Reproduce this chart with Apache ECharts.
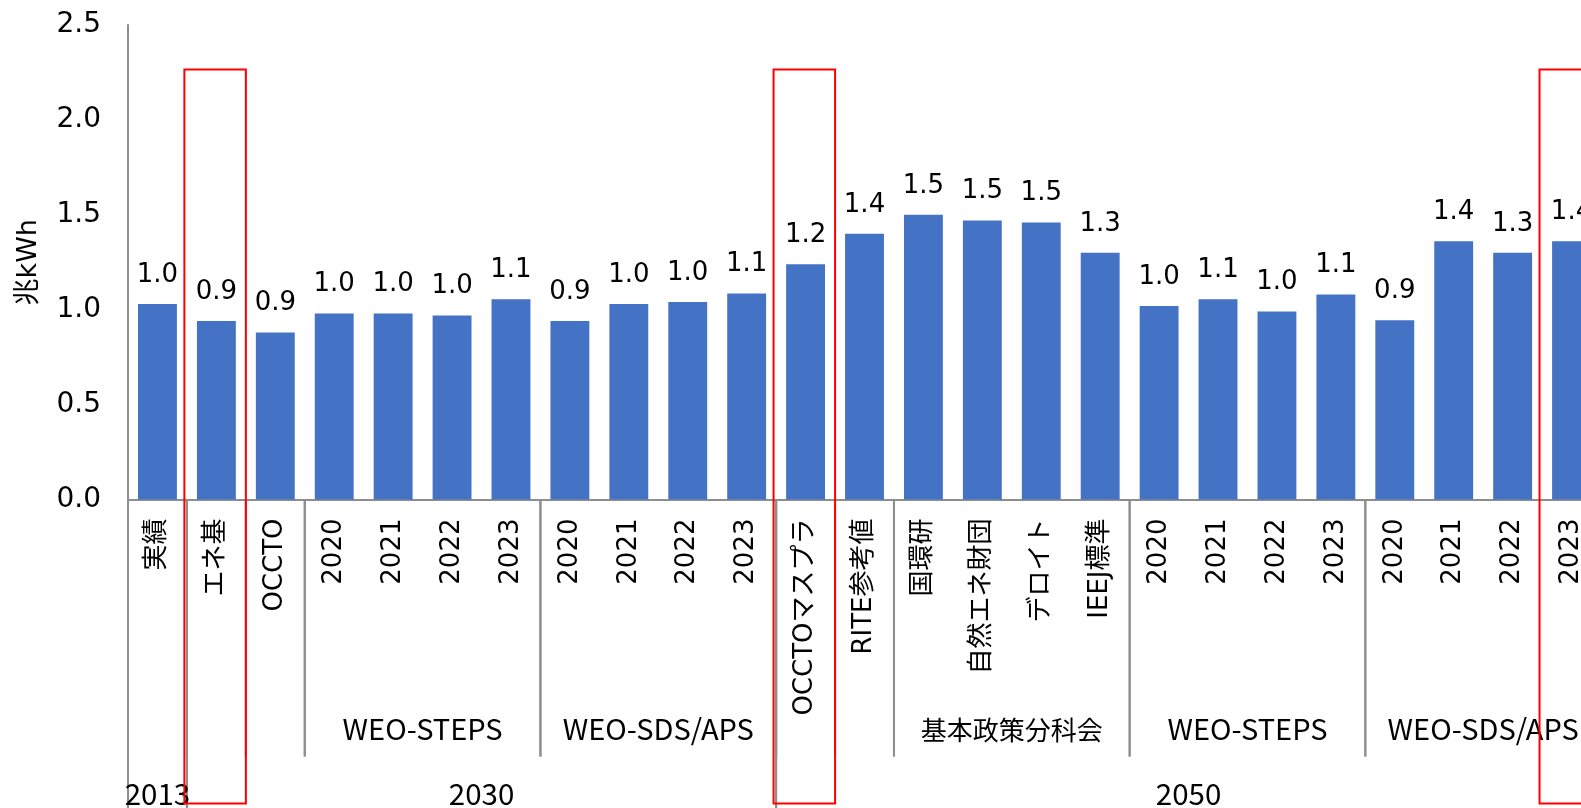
<!DOCTYPE html>
<html>
<head>
<meta charset="utf-8">
<script src="https://cdn.jsdelivr.net/npm/echarts@6/dist/echarts.min.js"></script>
<style>
html,body{margin:0;padding:0;background:#fff;overflow:hidden;}
#chart{width:1581px;height:808px;}
</style>
</head>
<body>
<div id="chart"></div>
<script>
// ---- data ----
const categories = ['実績','エネ基','OCCTO','2020','2021','2022','2023','2020','2021','2022','2023',
  'OCCTOマスプラ','RITE参考値','国環研','自然エネ財団','デロイト','IEEJ標準',
  '2020','2021','2022','2023','2020','2021','2022','2023'];
const values = [1.03,0.94,0.88,0.98,0.98,0.97,1.055,0.94,1.03,1.04,1.085,
  1.24,1.40,1.50,1.47,1.46,1.30,
  1.02,1.055,0.99,1.08,0.945,1.36,1.30,1.36];
const level2Groups = [['',1],['',1],['',1],['WEO-STEPS',4],['WEO-SDS/APS',4],['',1],['',1],['基本政策分科会',4],['WEO-STEPS',4],['WEO-SDS/APS',4]];
const level3Groups = [['2013',1],['2030',10],['2050',14]];
const highlighted = [1, 11, 24];
const yTicks = [0, 0.5, 1.0, 1.5, 2.0, 2.5];
const yName = '兆kWh';

const LATIN = "'DejaVu Sans','Noto Sans CJK JP',sans-serif";
const CJK = "'Noto Sans CJK JP','DejaVu Sans',sans-serif";
const axisColor = '#8e8e8e';

const chart = echarts.init(document.getElementById('chart'));
const keys = categories.map((c, i) => String(i));
chart.setOption({
  animation: false,
  grid: {left: 128, width: 1473, top: 25, height: 474.5, containLabel: false, outerBoundsMode: 'none'},
  xAxis: {
    type: 'category', data: keys,
    axisLine: {lineStyle: {color: axisColor, width: 2}},
    axisTick: {show: false},
    axisLabel: {
      interval: 0, rotate: 90, margin: 19, fontSize: 26, fontFamily: LATIN, color: '#000',
      formatter: (v) => categories[+v]
    }
  },
  yAxis: {
    type: 'value', min: yTicks[0], max: yTicks[yTicks.length - 1], interval: 0.5,
    name: yName, nameLocation: 'middle', nameGap: 86, nameRotate: 90,
    nameTextStyle: {fontSize: 27, fontFamily: LATIN, color: '#000'},
    axisLine: {show: true, lineStyle: {color: axisColor, width: 2}},
    axisTick: {show: false},
    splitLine: {show: false},
    axisLabel: {fontSize: 28, fontFamily: LATIN, color: '#000', margin: 27,
      formatter: (v) => v.toFixed(1)}
  },
  series: [{
    type: 'bar', data: values, barCategoryGap: '34%',
    itemStyle: {color: '#4472C4'},
    label: {show: true, position: 'top', distance: 16, fontSize: 26, fontFamily: LATIN, color: '#000',
      formatter: (p) => p.value.toFixed(1)}
  }]
});

// ---- multi-level axis decorations derived from axis scale ----
const cx = (i) => chart.convertToPixel({xAxisIndex: 0}, String(i));
const step = cx(1) - cx(0);
const edge = (i) => cx(0) - step / 2 + i * step;
const y0 = chart.convertToPixel({yAxisIndex: 0}, 0);
const H = 808;
const g = [];
const line = (x, ya, yb) => g.push({type: 'line', silent: true, z: 5,
  shape: {x1: x, y1: ya, x2: x, y2: yb}, style: {stroke: axisColor, lineWidth: 2}});
const text = (t, x, y, font) => g.push({type: 'text', silent: true, z: 6,
  style: {text: t, x: x, y: y, font: font, fill: '#000',
    align: 'center', verticalAlign: 'middle', textAlign: 'center', textVerticalAlign: 'middle'}});
const isCJK = (t) => /[\u3000-\u9fff]/.test(t);

let s = 0;
level2Groups.forEach(([lab, n]) => {
  const a = edge(s), b = edge(s + n);
  line(a, y0, y0 + 257);
  line(b, y0, y0 + 257);
  if (lab) text(lab, (a + b) / 2, y0 + (isCJK(lab) ? 231 : 229), (isCJK(lab) ? "26px " : "29px ") + CJK);
  s += n;
});
s = 0;
level3Groups.forEach(([lab, n]) => {
  const a = edge(s), b = edge(s + n);
  line(a, y0, H);
  line(b, y0, H);
  text(lab, (a + b) / 2, y0 + 294, "29.5px " + CJK);
  s += n;
});
// red highlight frames
const yTop = chart.convertToPixel({yAxisIndex: 0}, 2.265);
highlighted.forEach((i) => {
  g.push({type: 'rect', silent: true, z: 10,
    shape: {x: cx(i) - 32, y: yTop, width: 61.5, height: y0 + 304 - yTop},
    style: {fill: 'none', stroke: '#FF0000', lineWidth: 2}});
});
chart.setOption({graphic: g});
</script>
</body>
</html>
